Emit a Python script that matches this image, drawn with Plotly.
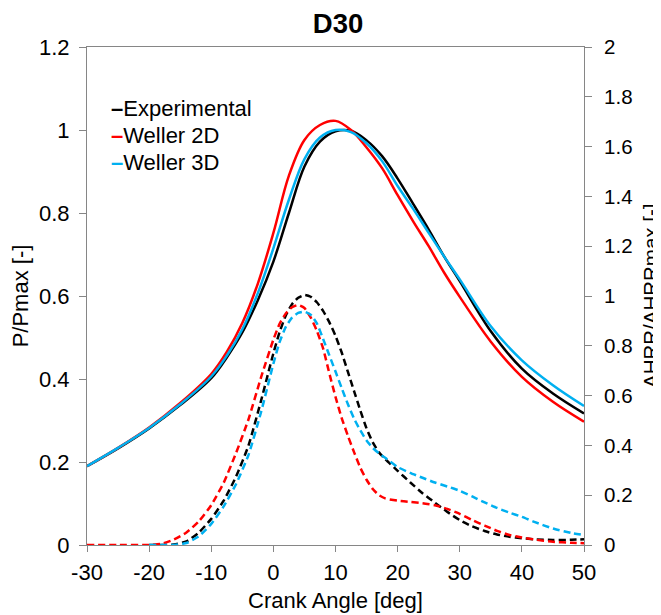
import plotly.graph_objects as go

# ---------------- data ----------------
crank_solid = [-30, -25, -20, -15, -10, -7.5, -5, -2.5, 0, 2.5, 5, 7.5, 10, 12.5, 15, 17.5,
               20, 22.5, 25, 27.5, 30, 35, 40, 45, 50]

p_exp = [0.19, 0.233, 0.281, 0.337, 0.402, 0.452, 0.512, 0.59, 0.683, 0.80, 0.912, 0.972,
         0.997, 0.998, 0.975, 0.937, 0.883, 0.822, 0.76, 0.695, 0.636, 0.515, 0.425, 0.365,
         0.317]

p_2d = [0.19, 0.234, 0.283, 0.342, 0.412, 0.465, 0.535, 0.63, 0.752, 0.89, 0.976, 1.012,
        1.022, 1.0, 0.958, 0.908, 0.843, 0.78, 0.72, 0.656, 0.598, 0.49, 0.405, 0.345, 0.297]

p_3d = [0.19, 0.234, 0.282, 0.339, 0.406, 0.456, 0.52, 0.607, 0.715, 0.832, 0.93, 0.982, 1.0,
        0.995, 0.968, 0.925, 0.865, 0.81, 0.752, 0.695, 0.64, 0.527, 0.445, 0.385, 0.335]

crank_dash = [-30, -25, -20, -18, -16, -14, -12, -10, -8, -6, -4, -2, 0, 1, 2, 3, 4, 5, 6, 7, 8,
              9, 10, 11, 12, 13, 14, 15, 16, 17, 18, 20, 22, 24, 26, 28, 30, 32, 34, 36, 38,
              40, 42, 45, 48, 50]

hrr_exp = [None, None, 0, 0, 0.002, 0.014, 0.05, 0.105, 0.178, 0.275, 0.40, 0.578, 0.77, 0.855,
           0.922, 0.967, 0.993, 1.004, 0.997, 0.975, 0.94, 0.895, 0.84, 0.773, 0.695, 0.617,
           0.54, 0.468, 0.412, 0.372, 0.345, 0.298, 0.252, 0.208, 0.17, 0.133, 0.10, 0.075,
           0.056, 0.042, 0.033, 0.027, 0.023, 0.02, 0.021, 0.023]

hrr_2d = [0, 0, 0, 0.005, 0.022, 0.05, 0.095, 0.16, 0.25, 0.37, 0.505, 0.672, 0.825, 0.888,
          0.93, 0.955, 0.964, 0.952, 0.914, 0.86, 0.79, 0.69, 0.595, 0.51, 0.438, 0.372, 0.31,
          0.262, 0.225, 0.2, 0.187, 0.178, 0.173, 0.168, 0.16, 0.145, 0.125, 0.10, 0.078,
          0.057, 0.04, 0.03, 0.022, 0.013, 0.009, 0.007]

hrr_3d = [None, None, 0, 0, 0, 0.008, 0.035, 0.085, 0.155, 0.245, 0.362, 0.532, 0.728, 0.815,
          0.876, 0.913, 0.932, 0.937, 0.925, 0.89, 0.828, 0.762, 0.697, 0.63, 0.565, 0.507,
          0.46, 0.42, 0.39, 0.368, 0.35, 0.313, 0.29, 0.27, 0.251, 0.235, 0.218, 0.195, 0.171,
          0.149, 0.13, 0.113, 0.093, 0.066, 0.048, 0.04]

series_names = ["Experimental", "Weller 2D", "Weller 3D"]
series_colors = ["#000000", "#FF0000", "#00B0F0"]

x_tick_vals = [-30, -20, -10, 0, 10, 20, 30, 40, 50]
x_tick_text = ["-30", "-20", "-10", "0", "10", "20", "30", "40", "50"]

FONT = "Liberation Sans, Arial, sans-serif"
AXIS_COLOR = "#868686"
FS = 22

# the page body has an 8px margin, so the figure is 8px smaller than the window
W, H = 653, 607

fig = go.Figure()

# dashed heat release curves (right axis)
for vals, col, name in zip([hrr_exp, hrr_2d, hrr_3d], series_colors, series_names):
    fig.add_trace(go.Scatter(
        x=crank_dash, y=vals, yaxis="y2", mode="lines", name=name + " AHRR",
        line=dict(color=col, width=2.5, dash="7px,4px", shape="spline", smoothing=0.5),
        showlegend=False))

# solid pressure curves (left axis)
for vals, col, name in zip([p_exp, p_2d, p_3d], series_colors, series_names):
    fig.add_trace(go.Scatter(
        x=crank_solid, y=vals, mode="lines", name=name,
        line=dict(color=col, width=2.5, shape="spline", smoothing=1.0),
        showlegend=False))

# legend drawn as text entries
legend_y = [0.876, 0.822, 0.768]
for name, col, yy in zip(series_names, series_colors, legend_y):
    fig.add_annotation(
        xref="paper", yref="paper", x=0.045, y=yy, xanchor="left", yanchor="middle",
        text=f"<span style='color:{col}'><b>–</b></span>{name}",
        showarrow=False, font=dict(family=FONT, size=FS, color="black"))

# right axis title
fig.add_annotation(
    xref="paper", yref="paper", x=(642 - 79) / 497, y=0.5, xanchor="center",
    yanchor="middle", textangle=-90, text="AHRR/AHRRmax [-]", showarrow=False,
    font=dict(family=FONT, size=20.5, color="black"))

fig.update_layout(
    width=W, height=H,
    margin=dict(l=79, r=77, t=39, b=70, autoexpand=False),
    paper_bgcolor="white", plot_bgcolor="white",
    font=dict(family=FONT, size=FS, color="black"),
    title=dict(text="<b>D30</b>", x=330 / W, xref="container", xanchor="center",
               y=1 - 15 / H, yref="container", yanchor="middle", automargin=False,
               font=dict(family=FONT, size=27.5, color="black")),
    xaxis=dict(range=[-30, 50], tickvals=x_tick_vals, ticktext=x_tick_text,
               showgrid=False, zeroline=False, automargin=False,
               showline=True, linecolor=AXIS_COLOR, linewidth=1, mirror=True,
               ticks="outside", ticklen=6, tickcolor=AXIS_COLOR,
               tickfont=dict(size=FS), ticklabelstandoff=2,
               title=dict(text="Crank Angle [deg]", font=dict(size=FS), standoff=8)),
    yaxis=dict(range=[0, 1.2], dtick=0.2, tick0=0, showgrid=False, zeroline=False,
               automargin=False,
               showline=True, linecolor=AXIS_COLOR, linewidth=1,
               ticks="outside", ticklen=7, tickcolor=AXIS_COLOR,
               tickfont=dict(size=FS), ticklabelstandoff=5,
               title=dict(text="P/Pmax [-]", font=dict(size=FS), standoff=6)),
    yaxis2=dict(range=[0, 2], dtick=0.2, tick0=0, overlaying="y", side="right",
                showgrid=False, zeroline=False, automargin=False,
                showline=True, linecolor=AXIS_COLOR,
                linewidth=1, ticks="outside", ticklen=7, tickcolor=AXIS_COLOR,
                tickfont=dict(size=20.5), ticklabelstandoff=8),
)

fig.write_html("out.html")
